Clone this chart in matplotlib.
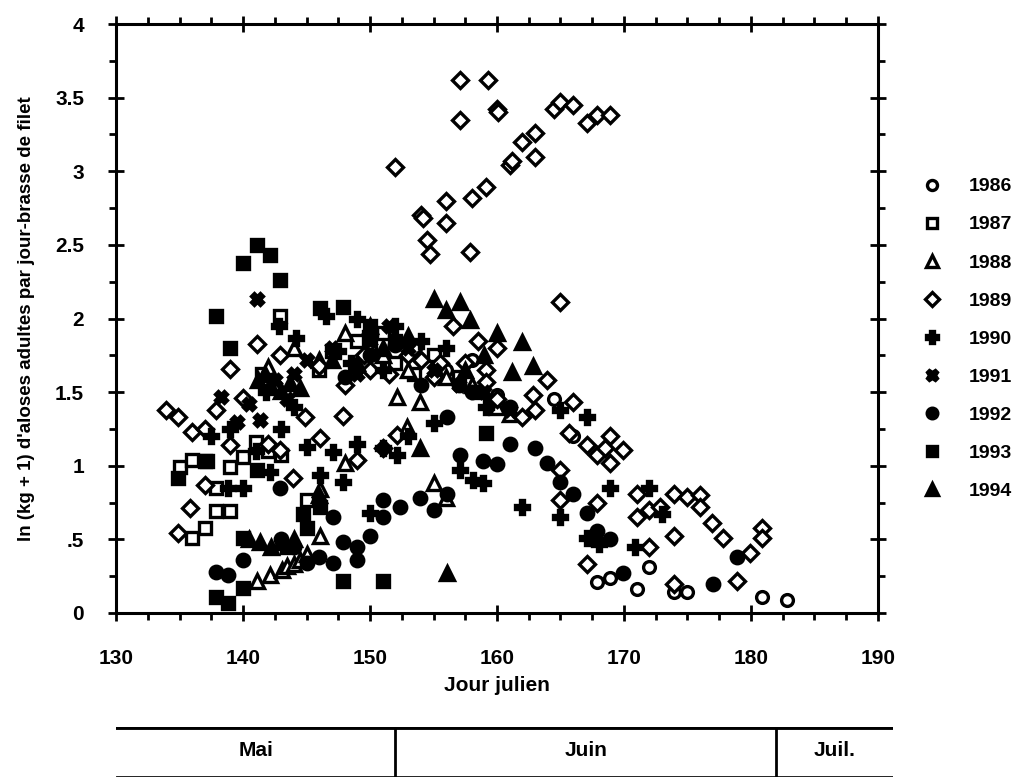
import matplotlib
matplotlib.use("Agg")
import matplotlib.pyplot as plt
from matplotlib.ticker import MultipleLocator, FixedLocator, FixedFormatter
from matplotlib.lines import Line2D

plt.rcParams['font.family'] = ['Liberation Sans Narrow', 'Liberation Sans', 'DejaVu Sans']
plt.rcParams['font.weight'] = 'bold'
plt.rcParams['axes.labelweight'] = 'bold'

# jour julien / ln(kg+1) par annee
x1986 = [156, 158, 160, 164.5, 166, 167.9, 168.9, 171, 172, 173.9, 175, 180.9, 182.8]
y1986 = [1.65, 1.72, 1.48, 1.45, 1.2, 0.21, 0.24, 0.16, 0.31, 0.14, 0.14, 0.11, 0.09]

x1987 = [135, 136, 137, 137, 136, 137.9, 137.9, 139, 139, 140, 141, 142, 142.9, 143, 145,
         147, 149, 150, 151, 152, 153.5, 155, 157, 158.5, 160, 146, 141.5]
y1987 = [0.99, 1.04, 1.03, 0.58, 0.51, 0.85, 0.69, 0.69, 0.99, 1.06, 1.16, 1.10, 2.02, 1.07, 0.77,
         1.78, 1.85, 1.80, 1.90, 1.70, 1.62, 1.75, 1.60, 1.50, 1.40, 1.65, 1.62]

x1988 = [141.1, 142.1, 143.1, 143.5, 144, 144.5, 145, 146.1, 146.1, 148, 152.1, 152.9, 153.9, 155,
         156, 142, 144, 146, 148, 150, 151, 153, 156, 158, 160, 161]
y1988 = [0.22, 0.26, 0.29, 0.32, 0.33, 0.36, 0.40, 0.52, 0.84, 1.02, 1.47, 1.26, 1.43, 0.88,
         0.78, 1.67, 1.80, 1.72, 1.90, 1.95, 1.75, 1.65, 1.60, 1.55, 1.40, 1.35]

x1989 = [133.9, 134.9, 136, 137, 137.9, 139, 139, 140, 141.1, 142, 142.9, 142.9, 143.9, 144.9,
         137, 135.8, 134.9, 146.1, 146, 147.9, 148, 149, 150, 151, 152.1, 152, 153, 154, 154.2,
         154.5, 154.7, 155, 156, 156, 156.5, 157.1, 157.1, 157.9, 158, 158.5, 159.1, 159.3,
         159.1, 159.1, 160, 160.1, 160, 160, 161, 161.2, 162, 162, 162.8, 163, 163, 163, 163.9,
         164.5, 165, 165, 165, 165, 166, 166, 165.7, 167.1, 167.1, 167.9, 167.9, 167.9, 168.5,
         168.9, 168.9, 168.9, 169.9, 167.1, 171, 171, 172, 172.8, 172, 173.9, 173.9, 173.9,
         175, 176, 176, 176.9, 177.8, 178.9, 179.9, 180.9, 180.9, 149.5, 151.5, 153.5, 155.5,
         157.5, 154]
y1989 = [1.38, 1.33, 1.23, 1.25, 1.38, 1.14, 1.66, 1.46, 1.83, 1.15, 1.11, 1.75, 0.92, 1.33,
         0.87, 0.71, 0.54, 1.19, 1.68, 1.34, 1.55, 1.04, 1.65, 1.12, 1.21, 3.03, 1.75, 2.70, 2.68,
         2.53, 2.44, 1.60, 2.65, 2.80, 1.95, 3.35, 3.62, 2.45, 2.82, 1.85, 2.89, 3.62,
         1.65, 1.57, 3.42, 3.40, 1.80, 1.45, 3.04, 3.07, 3.20, 1.33, 1.48, 3.26, 3.10, 1.38, 1.58,
         3.42, 3.47, 2.11, 0.97, 0.77, 3.45, 1.43, 1.22, 3.33, 1.14, 3.38, 1.07, 0.75, 1.12,
         3.38, 1.20, 1.02, 1.11, 0.33, 0.81, 0.65, 0.70, 0.72, 0.45, 0.81, 0.52, 0.20,
         0.79, 0.80, 0.72, 0.61, 0.51, 0.22, 0.41, 0.58, 0.51, 1.75, 1.62, 1.80, 1.70,
         1.70, 1.72]

x1990 = [138.8, 140, 141, 142.1, 143, 144, 145, 146.1, 147.1, 147.9, 149, 150, 151, 152.1, 153,
         155, 157.1, 158.1, 158.9, 159.1, 162, 165, 165, 167.1, 167.1, 168, 168.9, 170.9, 172,
         173, 142.8, 144.2, 146.5, 149, 150, 152, 154, 147.5, 156, 137.5, 139, 141.8, 148.5, 151]
y1990 = [0.85, 0.85, 1.10, 0.96, 1.25, 1.40, 1.13, 0.94, 1.09, 0.89, 1.15, 0.68, 1.12, 1.07, 1.20,
         1.29, 0.97, 0.90, 0.88, 1.40, 0.72, 0.65, 1.38, 1.33, 0.51, 0.47, 0.85, 0.45, 0.85,
         0.67, 1.95, 1.87, 2.02, 2.00, 1.90, 1.95, 1.85, 1.78, 1.80, 1.20, 1.25, 1.50, 1.70, 1.65]

x1991 = [141.1, 138.3, 139.5, 140.5, 141.3, 142.5, 143.5, 144, 145, 147, 149, 150, 151.5, 153,
         155, 157, 159, 161]
y1991 = [2.13, 1.47, 1.30, 1.42, 1.31, 1.58, 1.45, 1.62, 1.72, 1.80, 1.62, 1.85, 1.95, 1.80,
         1.65, 1.55, 1.50, 1.38]

x1992 = [137.9, 138.8, 140, 142.9, 143, 144, 145, 146, 147.1, 147.1, 147.9, 149, 149, 150, 151,
         151, 152.4, 153.9, 155, 156.1, 156.1, 157.1, 157, 158, 158.9, 160, 161, 161, 163, 163.9,
         165, 166, 167.1, 167.9, 168.9, 169.9, 177, 178.9, 148, 150, 152, 154]
y1992 = [0.28, 0.26, 0.36, 0.85, 0.50, 0.45, 0.34, 0.38, 0.34, 0.65, 0.48, 0.36, 0.45, 0.52, 0.65,
         0.77, 0.72, 0.78, 0.70, 0.81, 1.33, 1.07, 1.55, 1.50, 1.03, 1.01, 1.15, 1.40, 1.12, 1.02,
         0.89, 0.81, 0.68, 0.56, 0.50, 0.27, 0.20, 0.38, 1.60, 1.75, 1.82, 1.55]

x1993 = [134.9, 137.2, 137.9, 137.9, 138.8, 139, 140, 140, 140, 141.1, 141.1, 142.1, 142.9, 144.7,
         145, 146.1, 146.1, 147.9, 147.9, 151, 150, 152, 159.1, 143.5]
y1993 = [0.92, 1.03, 2.02, 0.11, 0.07, 1.80, 2.38, 0.51, 0.17, 2.50, 0.97, 2.43, 2.26, 0.67,
         0.58, 2.07, 0.72, 2.08, 0.22, 0.22, 1.95, 1.85, 1.22, 0.45]

x1994 = [140.5, 141.3, 142.2, 143, 144, 141.2, 141.7, 142.1, 143, 143.7, 144.5, 146, 147, 149,
         151, 153, 155, 156, 157.1, 157.9, 160, 161.2, 162, 162.8, 153.9, 156.1, 157.5, 159]
y1994 = [0.50, 0.48, 0.45, 0.48, 0.50, 1.58, 1.62, 1.55, 1.51, 1.56, 1.53, 0.80, 1.72, 1.70,
         1.80, 1.88, 2.13, 2.06, 2.11, 1.99, 1.90, 1.64, 1.84, 1.68, 1.12, 0.27, 1.65, 1.75]

annees = ['1986', '1987', '1988', '1989', '1990', '1991', '1992', '1993', '1994']
xs = [x1986, x1987, x1988, x1989, x1990, x1991, x1992, x1993, x1994]
ys = [y1986, y1987, y1988, y1989, y1990, y1991, y1992, y1993, y1994]

# marqueur, remplissage, taille
styles = [('o', 'white', 8.5), ('s', 'white', 8.5), ('^', 'white', 9.5), ('D', 'white', 8.5),
          ('P', 'black', 9.5), ('X', 'black', 8.5), ('o', 'black', 9), ('s', 'black', 9),
          ('^', 'black', 10.5)]

yticks = [0, 0.5, 1, 1.5, 2, 2.5, 3, 3.5, 4]
yticklabels = ['0', '.5', '1', '1.5', '2', '2.5', '3', '3.5', '4']
mois = ['Mai', 'Juin', 'Juil.']
debut_mois = [130, 152, 182, 191.2]

fig = plt.figure(figsize=(10.28, 7.77), dpi=100)
ax = fig.add_axes([116 / 1028, 1 - 613 / 777, (878 - 116) / 1028, (613 - 24) / 777])

for x, y, (m, fc, ms) in zip(xs, ys, styles):
    ax.plot(x, y, ls='none', marker=m, markersize=ms, markerfacecolor=fc,
            markeredgecolor='black', markeredgewidth=2.4, color='black')

ax.set_xlim(130, 190)
ax.set_ylim(0, 4)
ax.xaxis.set_major_locator(MultipleLocator(10))
ax.xaxis.set_minor_locator(MultipleLocator(2.5))
ax.yaxis.set_major_locator(FixedLocator(yticks))
ax.yaxis.set_major_formatter(FixedFormatter(yticklabels))
ax.yaxis.set_minor_locator(MultipleLocator(0.25))

for s in ax.spines.values():
    s.set_linewidth(2.2)
ax.tick_params(which='major', direction='inout', length=12, width=2,
               top=True, right=True, labelsize=15)
ax.tick_params(which='minor', direction='out', length=5, width=2, top=True, right=True)
ax.tick_params(axis='x', which='major', pad=20)
ax.tick_params(axis='y', which='major', pad=17)

ax.set_xlabel('Jour julien', fontsize=15, labelpad=6)
ax.set_ylabel("ln (kg + 1) d'aloses adultes par jour-brasse de filet", fontsize=13.5, labelpad=14)

handles = [Line2D([], [], ls='none', marker=m, markersize=ms * 0.85, markerfacecolor=fc,
                  markeredgecolor='black', markeredgewidth=2.4)
           for (m, fc, ms) in styles]
ax.legend(handles, annees, loc='upper left', bbox_to_anchor=(1.045, 0.752), frameon=False,
          fontsize=14, labelspacing=1.05, handletextpad=1.3, handlelength=1.2,
          borderaxespad=0)

# bandeau des mois
mx = fig.add_axes([116 / 1028, 0.0, (893 - 116) / 1028, 1 - 727 / 777])
mx.set_xlim(130, 191.2)
mx.set_ylim(0, 1)
mx.axis('off')
mx.axhline(1, color='black', lw=3.5)
mx.axhline(0.03, color='black', lw=0.6)
for d in debut_mois[1:-1]:
    mx.axvline(d, color='black', lw=2)
for i, nom in enumerate(mois):
    mx.text((debut_mois[i] + debut_mois[i + 1]) / 2, 0.52, nom, ha='center', va='center',
            fontsize=15)

fig.savefig('out.png', dpi=100)
